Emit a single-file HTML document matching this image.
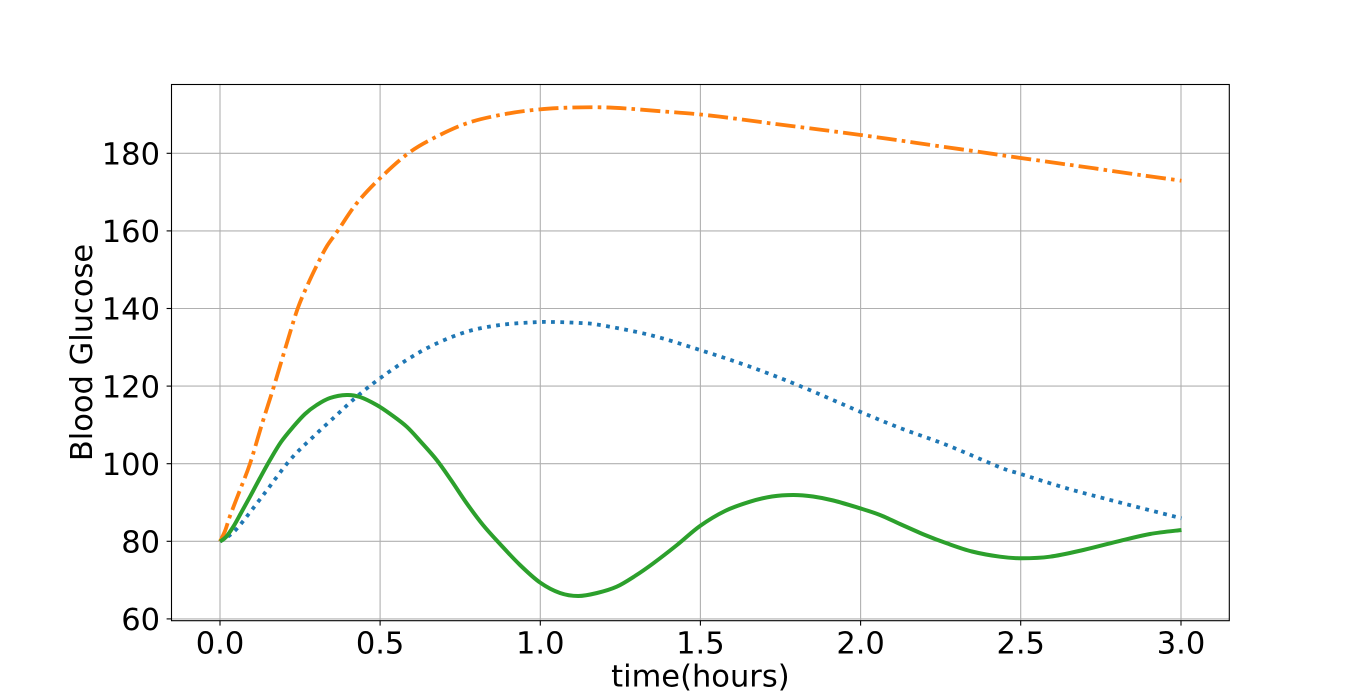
<!DOCTYPE html>
<html>
<head>
<meta charset="utf-8">
<style>
  html, body { margin: 0; padding: 0; background: #ffffff; }
  svg { display: block; }
  text { font-family: "DejaVu Sans", "Liberation Sans", sans-serif; fill: #000; }
</style>
</head>
<body>
<svg id="chart" width="1366" height="698" viewBox="0 0 1366 698" xmlns="http://www.w3.org/2000/svg">
  <rect x="0" y="0" width="1366" height="698" fill="#ffffff"/>
  <!-- grid -->
  <g stroke="#b0b0b0" stroke-width="1.1" fill="none">
    <line x1="220" y1="84.5" x2="220" y2="620.7"/>
    <line x1="380.1" y1="84.5" x2="380.1" y2="620.7"/>
    <line x1="540.3" y1="84.5" x2="540.3" y2="620.7"/>
    <line x1="700.4" y1="84.5" x2="700.4" y2="620.7"/>
    <line x1="860.6" y1="84.5" x2="860.6" y2="620.7"/>
    <line x1="1020.7" y1="84.5" x2="1020.7" y2="620.7"/>
    <line x1="1181" y1="84.5" x2="1181" y2="620.7"/>
    <line x1="171.5" y1="153.3" x2="1229.3" y2="153.3"/>
    <line x1="171.5" y1="230.9" x2="1229.3" y2="230.9"/>
    <line x1="171.5" y1="308.5" x2="1229.3" y2="308.5"/>
    <line x1="171.5" y1="386.1" x2="1229.3" y2="386.1"/>
    <line x1="171.5" y1="463.7" x2="1229.3" y2="463.7"/>
    <line x1="171.5" y1="541.3" x2="1229.3" y2="541.3"/>
    <line x1="171.5" y1="618.9" x2="1229.3" y2="618.9"/>
  </g>

  <!-- blue dotted -->
  <polyline class="smooth" fill="none" stroke="#1f77b4" stroke-width="3.8" stroke-dasharray="3.8 5.4" stroke-linejoin="round"
    points="220,541.5 230,535 240,525 263.3,495 290,460 313.3,436.7 336.7,415 356.7,396.7 380,378.3 406.7,360 433.3,345 466.7,331.7 500,325 533.3,322.3 553.3,322 580,323 600,325 650,335 700,350 750,366.7 800,386 860,411.7 900,428 946.7,445 1000,467.3 1021.7,474.3 1066.7,488.3 1116.7,501.7 1181.5,518.3"/>

  <!-- orange dash-dot -->
  <polyline class="smooth" fill="none" stroke="#ff7f0e" stroke-width="3.8" stroke-dasharray="20 5.2 3.6 5.2" stroke-linejoin="round"
    points="220,541.5 225,531 230,516 240,490 250,463.7 262,424 274,386.1 286,346 297.7,308.5 308,284 318,263 327,246 337.7,230.9 356.7,203.3 380,178.3 408.3,153.3 433.3,138.3 466.7,123.3 500,115 533.3,110 566.7,107.7 600,107.3 627.5,108.6 660,111.2 698.6,114.3 740,119.2 777.7,124.3 820,129.6 860.7,135 900,140.5 935.9,145.7 980,152 1018.9,157.7 1060,163.5 1094,168.3 1140,175 1181.5,180.7"/>

  <!-- green solid -->
  <polyline class="smooth" fill="none" stroke="#2ca02c" stroke-width="4" stroke-linejoin="round" stroke-linecap="butt"
    points="220,541.5 226,537 233.3,526.7 241,513 250,496.7 260,478 270,460 281,442 293.3,426.7 305,414 316.7,405 330,398 346.7,395 360,397 376.7,405 391,414.5 406.7,426.7 421,442 436.7,460 451,480 466.7,503.3 483,525 500,544 520,565 540,582.5 560,593 578.3,596 597,593 616.7,586.7 635,576 653.3,563.3 677,545 700,526 725,511 750,501.7 772,496.5 793.3,495 813,496.5 833.3,500.5 860,508.3 880,515 900,524 925,535 946.7,543.3 972,551.5 1000,556.7 1021.7,558.3 1050,556.7 1083.3,550 1116.7,541.7 1150,534 1181.5,530"/>

  <!-- axes spines -->
  <rect x="171.5" y="84.5" width="1057.8" height="536.2" fill="none" stroke="#000" stroke-width="1.1"/>

  <!-- ticks -->
  <g stroke="#000" stroke-width="1.1">
    <line x1="220" y1="620.7" x2="220" y2="625.6"/>
    <line x1="380.1" y1="620.7" x2="380.1" y2="625.6"/>
    <line x1="540.3" y1="620.7" x2="540.3" y2="625.6"/>
    <line x1="700.4" y1="620.7" x2="700.4" y2="625.6"/>
    <line x1="860.6" y1="620.7" x2="860.6" y2="625.6"/>
    <line x1="1020.7" y1="620.7" x2="1020.7" y2="625.6"/>
    <line x1="1181" y1="620.7" x2="1181" y2="625.6"/>
    <line x1="166.6" y1="153.3" x2="171.5" y2="153.3"/>
    <line x1="166.6" y1="230.9" x2="171.5" y2="230.9"/>
    <line x1="166.6" y1="308.5" x2="171.5" y2="308.5"/>
    <line x1="166.6" y1="386.1" x2="171.5" y2="386.1"/>
    <line x1="166.6" y1="463.7" x2="171.5" y2="463.7"/>
    <line x1="166.6" y1="541.3" x2="171.5" y2="541.3"/>
    <line x1="166.6" y1="618.9" x2="171.5" y2="618.9"/>
  </g>

  <!-- x tick labels -->
  <g font-size="30.5" text-anchor="middle">
    <text x="220" y="653.5">0.0</text>
    <text x="380.1" y="653.5">0.5</text>
    <text x="540.3" y="653.5">1.0</text>
    <text x="700.4" y="653.5">1.5</text>
    <text x="860.6" y="653.5">2.0</text>
    <text x="1020.7" y="653.5">2.5</text>
    <text x="1181" y="653.5">3.0</text>
  </g>
  <!-- y tick labels -->
  <g font-size="30.5" text-anchor="end">
    <text x="160" y="164.5">180</text>
    <text x="160" y="242.1">160</text>
    <text x="160" y="319.7">140</text>
    <text x="160" y="397.3">120</text>
    <text x="160" y="474.9">100</text>
    <text x="160" y="552.5">80</text>
    <text x="160" y="630.1">60</text>
  </g>

  <!-- axis labels -->
  <text x="700.4" y="686.5" font-size="30.5" text-anchor="middle">time(hours)</text>
  <text x="0" y="0" font-size="30.5" text-anchor="middle" transform="translate(92,352.5) rotate(-90)">Blood Glucose</text>
</svg>
<script>
(function(){
  var NS = "http://www.w3.org/2000/svg";
  var lines = document.querySelectorAll("polyline.smooth");
  for (var k = 0; k < lines.length; k++) {
    var pl = lines[k];
    var raw = pl.getAttribute("points").trim().split(/\s+/);
    var p = raw.map(function(s){ var a = s.split(","); return [parseFloat(a[0]), parseFloat(a[1])]; });
    var d = "M" + p[0][0] + "," + p[0][1];
    for (var i = 0; i < p.length - 1; i++) {
      var p0 = p[i > 0 ? i - 1 : i], p1 = p[i], p2 = p[i + 1], p3 = p[i + 2 < p.length ? i + 2 : i + 1];
      var c1x = p1[0] + (p2[0] - p0[0]) / 6, c1y = p1[1] + (p2[1] - p0[1]) / 6;
      var c2x = p2[0] - (p3[0] - p1[0]) / 6, c2y = p2[1] - (p3[1] - p1[1]) / 6;
      d += " C" + c1x.toFixed(2) + "," + c1y.toFixed(2) + " " + c2x.toFixed(2) + "," + c2y.toFixed(2) + " " + p2[0] + "," + p2[1];
    }
    var path = document.createElementNS(NS, "path");
    for (var j = 0; j < pl.attributes.length; j++) {
      var at = pl.attributes[j];
      if (at.name !== "points" && at.name !== "class") path.setAttribute(at.name, at.value);
    }
    path.setAttribute("d", d);
    pl.parentNode.replaceChild(path, pl);
  }
})();
</script>
</body>
</html>
